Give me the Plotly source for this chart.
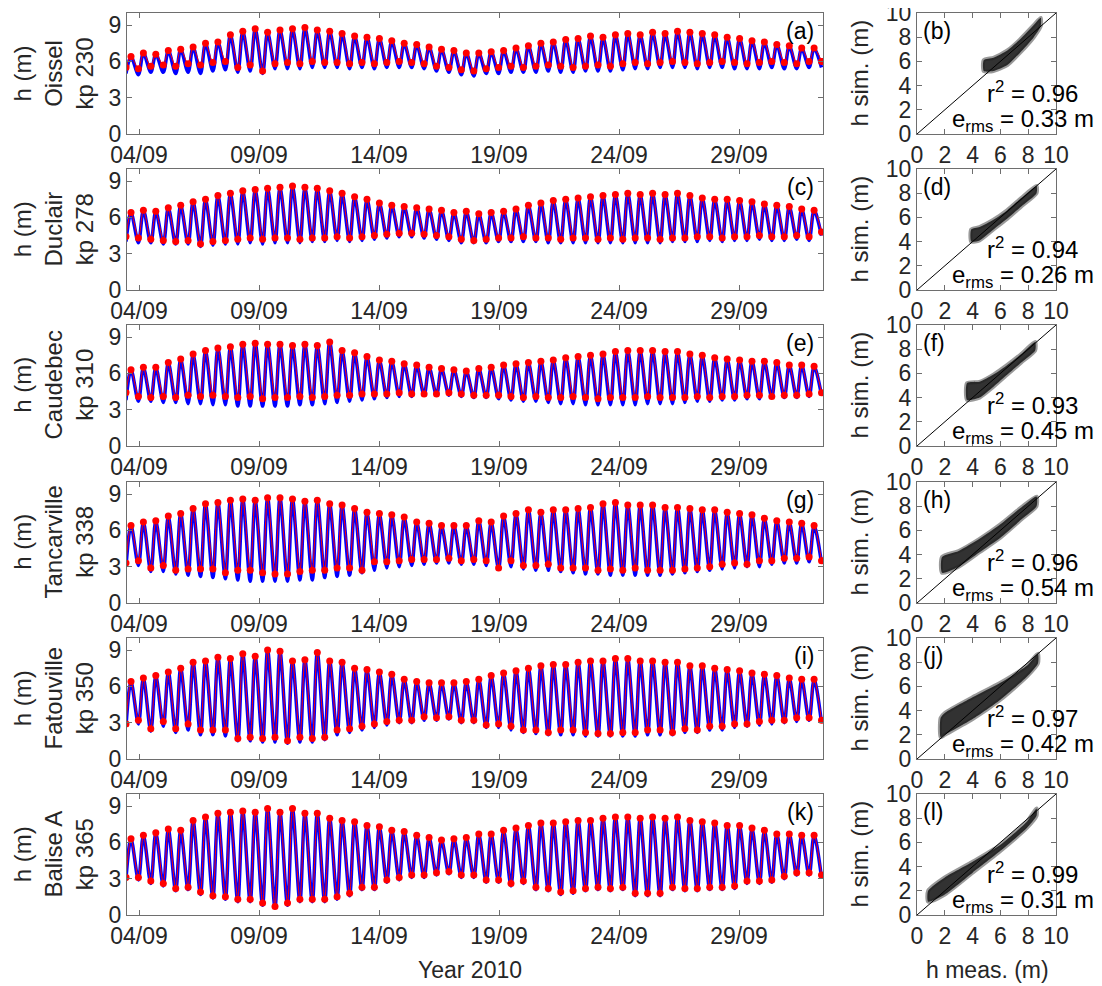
import pandas as pd
import plotly.graph_objects as go

# ---------------- DATA ----------------
# hours after 2010-09-03 12:00 of each high water / low water
hw_hours = [4.0, 16.4, 28.8, 41.3, 53.7, 66.1, 78.5, 90.9, 103.4, 115.8, 128.2, 140.6, 153.0, 165.5,
            177.9, 190.3, 202.7, 215.1, 227.6, 240.0, 252.4, 264.8, 277.2, 289.7, 302.1, 314.5, 326.9,
            339.3, 351.8, 364.2, 376.6, 389.0, 401.4, 413.9, 426.3, 438.7, 451.1, 463.5, 476.0, 488.4,
            500.8, 513.2, 525.6, 538.1, 550.5, 562.9, 575.3, 587.7, 600.2, 612.6, 625.0, 637.4, 649.8,
            662.3, 674.7, 687.1]
lw_hours = [-1.0, 11.4, 23.8, 36.3, 48.7, 61.1, 73.5, 85.9, 98.4, 110.8, 123.2, 135.6, 148.0, 160.5,
            172.9, 185.3, 197.7, 210.1, 222.6, 235.0, 247.4, 259.8, 272.2, 284.7, 297.1, 309.5, 321.9,
            334.3, 346.8, 359.2, 371.6, 384.0, 396.4, 408.9, 421.3, 433.7, 446.1, 458.5, 471.0, 483.4,
            495.8, 508.2, 520.6, 533.1, 545.5, 557.9, 570.3, 582.7, 595.2, 607.6, 620.0, 632.4, 644.8,
            657.3, 669.7, 682.1, 694.5]

# Oissel kp 230
a_hw = [6.4, 6.7, 6.6, 6.9, 7.0, 7.2, 7.5, 7.6, 8.2, 8.5, 8.7, 8.4, 8.6, 8.7, 8.8, 8.6, 8.5, 8.3, 8.1, 8.0,
        7.9, 7.7, 7.5, 7.4, 7.2, 7.0, 6.9, 6.7, 6.7, 6.8, 6.9, 7.1, 7.3, 7.5, 7.6, 7.8, 7.9, 8.1, 8.0, 8.2,
        8.3, 8.2, 8.4, 8.3, 8.5, 8.4, 8.3, 8.2, 8.0, 7.9, 7.7, 7.6, 7.4, 7.3, 7.1, 7.1]
a_lw_obs = [5.5, 5.4, 5.6, 5.7, 5.6, 5.8, 5.7, 5.9, 6.0, 5.5, 5.7, 5.2, 5.8, 5.9, 5.8, 6.0, 5.9, 5.9, 5.8,
            5.9, 5.8, 5.9, 6.0, 5.9, 5.8, 5.6, 5.5, 5.3, 5.2, 5.4, 5.5, 5.6, 5.5, 5.6, 5.7, 5.6, 5.5, 5.6,
            5.7, 5.6, 5.8, 5.9, 5.8, 5.9, 6.0, 5.9, 5.8, 5.9, 6.0, 5.9, 5.8, 5.9, 6.0, 5.9, 5.8, 6.0, 6.0]
a_lw_sim = [5.0, 4.9, 5.1, 5.1, 5.0, 5.1, 5.0, 5.2, 5.3, 5.1, 5.2, 5.0, 5.4, 5.4, 5.4, 5.5, 5.5, 5.5, 5.4,
            5.5, 5.4, 5.5, 5.5, 5.5, 5.4, 5.2, 5.1, 4.9, 4.8, 5.0, 5.0, 5.1, 5.1, 5.1, 5.2, 5.1, 5.1, 5.2,
            5.2, 5.2, 5.3, 5.4, 5.4, 5.5, 5.5, 5.5, 5.4, 5.5, 5.5, 5.4, 5.4, 5.4, 5.5, 5.4, 5.4, 5.5, 5.5]
# Duclair kp 278
c_hw = [6.4, 6.6, 6.5, 6.8, 7.0, 7.3, 7.5, 7.8, 8.0, 8.2, 8.3, 8.4, 8.5, 8.6, 8.5, 8.4, 8.2, 8.0, 7.7, 7.5,
        7.2, 7.0, 6.9, 6.8, 6.7, 6.6, 6.4, 6.5, 6.3, 6.4, 6.5, 6.7, 7.0, 7.2, 7.4, 7.5, 7.6, 7.7, 7.8, 7.9,
        8.0, 7.9, 8.0, 7.9, 8.0, 7.8, 7.6, 7.5, 7.5, 7.4, 7.3, 7.1, 7.0, 6.9, 6.7, 6.6]
c_lw_obs = [4.4, 4.3, 4.2, 4.1, 4.0, 4.1, 3.8, 4.0, 4.1, 4.2, 4.3, 4.2, 4.3, 4.3, 4.2, 4.3, 4.3, 4.4, 4.3,
            4.4, 4.5, 4.6, 4.7, 4.7, 4.6, 4.5, 4.4, 4.2, 4.1, 4.2, 4.3, 4.3, 4.4, 4.3, 4.3, 4.2, 4.3, 4.3,
            4.2, 4.3, 4.2, 4.3, 4.3, 4.2, 4.3, 4.3, 4.4, 4.4, 4.3, 4.4, 4.4, 4.5, 4.4, 4.4, 4.5, 4.4, 4.8]
c_lw_sim = [4.0, 3.9, 3.9, 3.8, 3.8, 3.8, 3.6, 3.7, 3.8, 3.8, 3.9, 3.8, 3.9, 3.9, 3.9, 4.0, 4.0, 4.1, 4.0,
            4.1, 4.2, 4.3, 4.4, 4.4, 4.3, 4.2, 4.1, 3.9, 3.9, 3.9, 4.0, 4.0, 4.0, 4.0, 3.9, 3.9, 3.9, 3.9,
            3.9, 3.9, 3.9, 3.9, 3.9, 3.9, 4.0, 4.0, 4.0, 4.1, 4.0, 4.1, 4.1, 4.2, 4.1, 4.1, 4.2, 4.1, 4.5]
# Caudebec kp 310
e_hw = [6.3, 6.5, 6.5, 6.9, 7.2, 7.6, 7.9, 8.1, 8.2, 8.4, 8.5, 8.4, 8.4, 8.3, 8.4, 8.3, 8.6, 7.9, 7.7, 7.4,
        7.1, 7.0, 6.8, 6.7, 6.5, 6.4, 6.3, 6.2, 6.4, 6.5, 6.7, 6.8, 6.9, 7.0, 7.1, 7.3, 7.4, 7.5, 7.6, 7.8,
        7.9, 7.9, 7.9, 7.8, 7.8, 7.6, 7.5, 7.3, 7.2, 7.1, 7.0, 7.0, 6.9, 6.7, 6.7, 6.6]
e_lw_obs = [4.4, 4.1, 4.0, 4.1, 4.0, 4.2, 4.1, 4.2, 4.1, 4.0, 4.1, 3.9, 4.0, 4.0, 4.1, 4.0, 4.1, 4.2, 4.2,
            4.3, 4.3, 4.3, 4.4, 4.3, 4.3, 4.3, 4.4, 4.3, 4.2, 4.2, 4.2, 4.1, 4.0, 4.1, 4.0, 4.0, 4.1, 4.0,
            3.9, 4.0, 4.0, 4.0, 4.1, 4.0, 4.0, 4.0, 4.1, 4.0, 4.1, 4.1, 4.2, 4.2, 4.1, 4.2, 4.2, 4.3, 4.4]
e_lw_sim = [3.8, 3.7, 3.7, 3.6, 3.6, 3.5, 3.5, 3.4, 3.4, 3.3, 3.3, 3.3, 3.3, 3.3, 3.4, 3.4, 3.5, 3.6, 3.7,
            3.8, 3.9, 4.0, 4.1, 4.1, 4.2, 4.2, 4.2, 4.1, 4.0, 4.0, 3.9, 3.8, 3.7, 3.7, 3.6, 3.5, 3.5, 3.4,
            3.4, 3.4, 3.4, 3.4, 3.5, 3.5, 3.5, 3.6, 3.7, 3.7, 3.8, 3.8, 3.9, 3.9, 4.0, 4.0, 4.0, 4.1, 4.2]
# Tancarville kp 338
g_hw = [6.4, 6.7, 6.8, 7.2, 7.4, 7.8, 8.2, 8.3, 8.5, 8.6, 8.5, 8.7, 8.7, 8.6, 8.4, 8.5, 8.2, 8.1, 7.8, 7.5,
        7.4, 7.3, 7.1, 6.7, 6.6, 6.4, 6.4, 6.4, 6.8, 6.7, 7.2, 7.4, 7.7, 7.5, 7.7, 7.7, 7.8, 7.9, 8.2, 8.3,
        8.1, 8.1, 8.1, 7.9, 7.9, 7.8, 7.7, 7.7, 7.5, 7.4, 7.3, 7.0, 6.8, 6.7, 6.6, 6.4]
g_lw_obs = [3.3, 3.5, 2.9, 3.1, 2.7, 2.8, 2.8, 2.8, 2.5, 2.7, 2.7, 2.5, 2.4, 2.4, 2.6, 2.7, 2.7, 2.9, 2.9,
            2.7, 3.4, 3.4, 3.5, 3.6, 3.6, 3.6, 3.7, 3.5, 3.6, 3.5, 2.9, 3.5, 3.1, 3.1, 3.2, 2.9, 2.9, 2.9,
            2.7, 2.8, 2.7, 2.9, 2.7, 2.7, 2.7, 2.8, 2.9, 3.0, 3.2, 3.3, 3.2, 3.5, 3.5, 3.7, 3.7, 3.8, 3.5]
g_lw_sim = [3.0, 3.1, 2.6, 2.6, 2.4, 2.3, 2.2, 2.1, 2.0, 1.9, 1.8, 1.8, 1.8, 1.8, 1.9, 1.9, 2.1, 2.2, 2.3,
            2.5, 2.7, 2.9, 3.0, 3.1, 3.2, 3.3, 3.3, 3.2, 3.2, 3.1, 2.8, 3.0, 2.8, 2.7, 2.7, 2.6, 2.5, 2.4,
            2.4, 2.3, 2.3, 2.3, 2.3, 2.3, 2.4, 2.5, 2.6, 2.7, 2.8, 2.9, 3.0, 3.0, 3.2, 3.3, 3.3, 3.4, 3.3]
# Fatouville kp 350
i_hw = [6.4, 6.7, 6.9, 7.2, 7.5, 8.0, 8.1, 8.4, 8.3, 8.7, 8.5, 9.0, 8.9, 8.1, 8.2, 8.8, 8.1, 8.0, 7.5, 7.4,
        7.2, 7.0, 6.6, 6.4, 6.3, 6.3, 6.3, 6.4, 6.6, 6.9, 7.1, 7.3, 7.5, 7.7, 7.8, 7.8, 8.0, 8.1, 8.1, 8.3,
        8.3, 8.1, 8.1, 8.0, 8.0, 7.7, 7.7, 7.5, 7.4, 7.3, 7.1, 7.0, 6.9, 6.7, 6.6, 6.6]
i_lw_obs = [2.9, 3.2, 2.5, 3.1, 2.5, 2.9, 2.4, 2.4, 2.4, 1.7, 1.8, 1.7, 1.8, 1.5, 1.8, 1.7, 1.8, 2.4, 2.5,
            2.7, 2.9, 3.1, 3.2, 3.2, 3.5, 3.4, 3.5, 3.2, 3.2, 2.8, 2.9, 2.7, 2.4, 2.4, 2.2, 2.4, 2.4, 2.2,
            2.1, 2.1, 2.2, 2.2, 2.4, 2.4, 2.2, 2.5, 2.4, 2.7, 2.7, 2.9, 2.9, 3.1, 3.2, 3.2, 3.4, 3.4, 3.2]
i_lw_sim = [2.7, 2.9, 2.3, 2.7, 2.2, 2.4, 2.0, 2.0, 1.9, 1.5, 1.5, 1.4, 1.4, 1.3, 1.4, 1.4, 1.6, 2.0, 2.2,
            2.4, 2.6, 2.8, 3.0, 3.0, 3.2, 3.2, 3.3, 3.0, 3.0, 2.6, 2.6, 2.4, 2.2, 2.1, 2.0, 2.0, 2.0, 1.9,
            1.9, 1.9, 1.9, 1.9, 2.0, 2.0, 2.0, 2.2, 2.2, 2.4, 2.4, 2.6, 2.7, 2.8, 2.9, 3.0, 3.1, 3.2, 3.0]
# Balise A kp 365
k_hw = [6.3, 6.6, 6.8, 7.1, 7.0, 7.8, 8.1, 8.4, 8.5, 8.6, 8.5, 8.8, 8.5, 8.8, 8.4, 8.4, 8.0, 7.8, 7.7, 7.4,
        7.3, 7.0, 6.9, 6.6, 6.4, 6.2, 6.3, 6.4, 6.7, 6.7, 7.0, 7.2, 7.4, 7.6, 7.6, 7.7, 7.8, 7.8, 8.0, 8.1,
        8.1, 8.0, 8.1, 8.0, 8.1, 7.8, 7.7, 7.6, 7.4, 7.4, 7.2, 7.0, 6.7, 6.7, 6.6, 6.6]
k_lw_obs = [3.1, 3.1, 2.8, 2.6, 2.2, 2.3, 1.9, 1.6, 1.5, 1.3, 1.3, 1.0, 0.7, 1.0, 1.3, 1.3, 1.3, 1.5, 1.8,
            2.3, 2.3, 2.9, 3.1, 3.3, 3.3, 3.5, 3.6, 3.3, 3.3, 2.9, 2.9, 2.6, 2.8, 2.3, 2.2, 1.9, 2.0, 2.2,
            2.3, 2.2, 2.3, 1.8, 1.8, 1.8, 2.3, 2.2, 2.2, 2.3, 2.3, 2.4, 2.8, 2.8, 2.9, 3.2, 3.5, 3.5, 3.3]
k_lw_sim = [3.0, 2.9, 2.6, 2.4, 2.0, 2.1, 1.7, 1.4, 1.3, 1.1, 1.1, 0.8, 0.6, 0.8, 1.1, 1.1, 1.1, 1.3, 1.6,
            2.1, 2.1, 2.7, 2.9, 3.1, 3.1, 3.3, 3.4, 3.1, 3.1, 2.7, 2.7, 2.4, 2.6, 2.1, 2.0, 1.7, 1.8, 2.0,
            2.1, 2.0, 2.1, 1.6, 1.6, 1.6, 2.1, 2.0, 2.0, 2.1, 2.1, 2.2, 2.6, 2.6, 2.7, 3.0, 3.3, 3.3, 3.1]

# scatter clouds (h meas. vs h sim.): outline of the point cloud
b_meas = [4.8, 5.5, 6.5, 7.4, 8.4, 8.9]
b_sim_lo = [5.2, 5.2, 5.7, 6.7, 8.0, 8.9]
b_sim_hi = [6.1, 6.3, 6.9, 7.8, 9.0, 9.6]
d_meas = [3.9, 4.5, 5.5, 6.5, 7.5, 8.6]
d_sim_lo = [4.0, 4.1, 5.0, 5.9, 6.9, 8.0]
d_sim_hi = [5.0, 5.2, 5.8, 6.6, 7.6, 8.6]
f_meas = [3.6, 4.5, 5.5, 6.5, 7.5, 8.5]
f_sim_lo = [3.8, 4.0, 4.9, 5.9, 6.9, 7.9]
f_sim_hi = [5.2, 5.3, 5.9, 6.7, 7.6, 8.6]
h_meas = [1.8, 3.0, 4.5, 6.0, 7.5, 8.6]
h_sim_lo = [2.5, 3.0, 4.2, 5.4, 6.9, 8.0]
h_sim_hi = [3.8, 4.3, 5.3, 6.5, 7.9, 8.8]
j_meas = [1.7, 2.0, 4.0, 6.0, 7.9, 8.7]
j_sim_lo = [1.8, 2.0, 3.3, 4.9, 6.8, 7.9]
j_sim_hi = [3.4, 3.8, 5.1, 6.3, 7.7, 8.7]
l_meas = [0.8, 2.0, 4.0, 6.0, 7.9, 8.6]
l_sim_lo = [1.1, 1.7, 3.5, 5.3, 7.2, 8.2]
l_sim_hi = [2.0, 3.1, 4.4, 5.8, 7.7, 8.8]

station_names = ["Oissel", "Duclair", "Caudebec", "Tancarville", "Fatouville", "Balise A"]
station_kp = ["kp 230", "kp 278", "kp 310", "kp 338", "kp 350", "kp 365"]
left_letters = ["(a)", "(c)", "(e)", "(g)", "(i)", "(k)"]
right_letters = ["(b)", "(d)", "(f)", "(h)", "(j)", "(l)"]
r2_values = ["0.96", "0.94", "0.93", "0.96", "0.97", "0.99"]
erms_values = ["0.33", "0.26", "0.45", "0.54", "0.42", "0.31"]

date_tickvals = ["2010-09-04", "2010-09-09", "2010-09-14", "2010-09-19", "2010-09-24", "2010-09-29"]
date_ticktext = ["04/09", "09/09", "14/09", "19/09", "24/09", "29/09"]
date_range = ["2010-09-03 12:00", "2010-10-02 12:00"]
h_ticks = [0, 3, 6, 9]
scatter_ticks = [0, 2, 4, 6, 8, 10]

# ---------------- BUILD ----------------
t0 = pd.Timestamp("2010-09-03 12:00")
hw_t = [t0 + pd.Timedelta(hours=h) for h in hw_hours]
lw_t = [t0 + pd.Timedelta(hours=h) for h in lw_hours]


def merge(hw, lw):
    xs, ys = [], []
    for n in range(len(hw)):
        xs += [lw_t[n], hw_t[n]]
        ys += [lw[n], hw[n]]
    xs.append(lw_t[len(hw)])
    ys.append(lw[len(hw)])
    return xs, ys


series = [(a_hw, a_lw_obs, a_lw_sim), (c_hw, c_lw_obs, c_lw_sim), (e_hw, e_lw_obs, e_lw_sim),
          (g_hw, g_lw_obs, g_lw_sim), (i_hw, i_lw_obs, i_lw_sim), (k_hw, k_lw_obs, k_lw_sim)]
clouds = [(b_meas, b_sim_lo, b_sim_hi), (d_meas, d_sim_lo, d_sim_hi), (f_meas, f_sim_lo, f_sim_hi),
          (h_meas, h_sim_lo, h_sim_hi), (j_meas, j_sim_lo, j_sim_hi), (l_meas, l_sim_lo, l_sim_hi)]

# page body has an 8 px margin: the figure is placed 8 px right / down
OFF = 8
W, H = 1102 - OFF, 986 - OFF
FONT = "Liberation Sans, Arial, Helvetica, sans-serif"
TXT = "#262626"
AX = "#6e6e6e"
FS = 23


def fx(p):
    return (p - OFF) / W


def fy(p):
    return 1 - (p - OFF) / H


LX0, LX1 = 127, 823
RX0, RX1 = 917, 1056
TOPS = [13, 169, 325, 482, 638, 794]
PH = 121

fig = go.Figure()
layout = dict(width=W, height=H, margin=dict(l=0, r=0, t=0, b=0, autoexpand=False),
              paper_bgcolor="white", plot_bgcolor="white", showlegend=False,
              font=dict(family=FONT, size=FS, color=TXT))
annotations = []

axis_common = dict(showline=True, linecolor=AX, linewidth=1, mirror="ticks", ticks="inside",
                   ticklen=5, tickcolor=AX, showgrid=False, zeroline=False, automargin=False,
                   ticklabeloverflow="allow",
                   tickfont=dict(family=FONT, size=FS, color=TXT))

for r in range(6):
    top = TOPS[r]
    bot = top + PH
    ydom = [fy(bot), fy(top)]
    nl = 2 * r + 1
    nr = 2 * r + 2
    sl = "" if nl == 1 else str(nl)
    sr = str(nr)

    hw, lw_obs, lw_sim = series[r]
    xs, ys_sim = merge(hw, lw_sim)
    _, ys_obs = merge(hw, lw_obs)
    fig.add_trace(go.Scatter(x=xs, y=ys_sim, mode="lines",
                             line=dict(color="#0000ff", width=3.5, shape="spline", smoothing=0.9),
                             xaxis="x" + sl, yaxis="y" + sl, hoverinfo="skip"))
    fig.add_trace(go.Scatter(x=xs, y=ys_obs, mode="lines+markers",
                             line=dict(color="#ff0000", width=1, shape="spline", smoothing=0.9),
                             marker=dict(color="#ff0000", size=7),
                             xaxis="x" + sl, yaxis="y" + sl, hoverinfo="skip"))

    layout["xaxis" + sl] = dict(axis_common, domain=[fx(LX0), fx(LX1)], anchor="y" + sl, type="date",
                                range=date_range, tickmode="array", tickvals=date_tickvals,
                                ticktext=date_ticktext)
    layout["yaxis" + sl] = dict(axis_common, domain=ydom, anchor="x" + sl, range=[0, 10],
                                tickmode="array", tickvals=h_ticks)

    # scatter panel
    meas, lo, hi = clouds[r]
    px_ = meas + meas[::-1]
    py_ = lo + hi[::-1]
    fig.add_trace(go.Scatter(x=px_ + [px_[0]], y=py_ + [py_[0]], mode="lines", fill="toself",
                             fillcolor="rgba(28,28,28,0.9)",
                             line=dict(color="rgba(30,30,30,0.45)", width=4, shape="spline", smoothing=0.6),
                             xaxis="x" + sr, yaxis="y" + sr, hoverinfo="skip"))
    fig.add_trace(go.Scatter(x=[0, 10], y=[0, 10], mode="lines", line=dict(color="black", width=1),
                             xaxis="x" + sr, yaxis="y" + sr, hoverinfo="skip"))
    layout["xaxis" + sr] = dict(axis_common, domain=[fx(RX0), fx(RX1)], anchor="y" + sr, range=[0, 10],
                                tickmode="array", tickvals=scatter_ticks)
    layout["yaxis" + sr] = dict(axis_common, domain=ydom, anchor="x" + sr, range=[0, 10],
                                tickmode="array", tickvals=scatter_ticks)

    mid = top + PH / 2
    annotations.append(dict(text="h (m)<br>" + station_names[r] + "<br>" + station_kp[r],
                            xref="paper", yref="paper", x=fx(53), y=fy(mid), textangle=-90,
                            showarrow=False, xanchor="center", yanchor="middle",
                            font=dict(size=24, color=TXT)))
    annotations.append(dict(text="h sim. (m)", xref="paper", yref="paper", x=fx(859), y=fy(mid),
                            textangle=-90, showarrow=False, xanchor="center", yanchor="middle",
                            font=dict(size=24, color=TXT)))
    annotations.append(dict(text=left_letters[r], xref="paper", yref="paper", x=fx(816), y=fy(top + 3),
                            showarrow=False, xanchor="right", yanchor="top",
                            font=dict(size=FS, color="black")))
    annotations.append(dict(text=right_letters[r], xref="paper", yref="paper", x=fx(921), y=fy(top + 3),
                            showarrow=False, xanchor="left", yanchor="top",
                            font=dict(size=FS, color="black")))
    annotations.append(dict(text="r<sup>2</sup> = " + r2_values[r], xref="paper", yref="paper",
                            x=fx(985), y=fy(top + 79), showarrow=False, xanchor="left", yanchor="middle",
                            font=dict(size=24, color="black")))
    annotations.append(dict(text="e<sub>rms</sub> = " + erms_values[r] + " m", xref="paper", yref="paper",
                            x=fx(950), y=fy(top + 107), showarrow=False, xanchor="left", yanchor="middle",
                            font=dict(size=24, color="black")))

annotations.append(dict(text="Year 2010", xref="paper", yref="paper", x=fx(470), y=fy(970),
                        showarrow=False, xanchor="center", yanchor="middle", font=dict(size=FS, color=TXT)))
annotations.append(dict(text="h meas. (m)", xref="paper", yref="paper", x=fx(987), y=fy(970),
                        showarrow=False, xanchor="center", yanchor="middle", font=dict(size=FS, color=TXT)))
layout["annotations"] = annotations
fig.update_layout(**layout)
fig.write_html("out.html")
